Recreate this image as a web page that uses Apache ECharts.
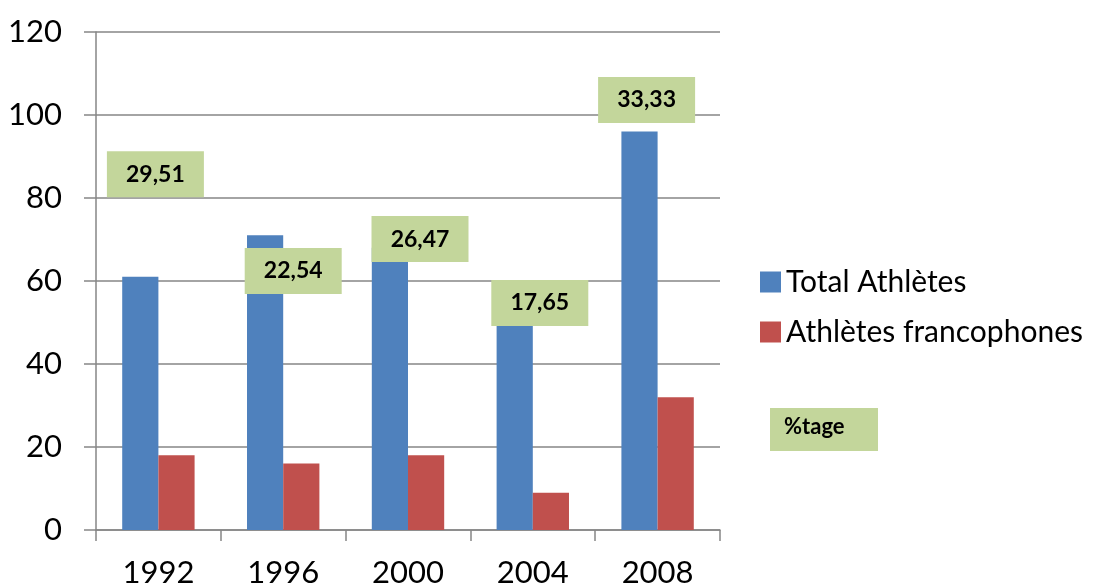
<!DOCTYPE html>
<html>
<head>
    <meta charset="utf-8">
    <title>Athlètes</title>
    <script src="https://cdn.jsdelivr.net/npm/echarts@6/dist/echarts.min.js"></script>
    <style>
        body { margin: 0; background: #fff; }
    </style>
</head>
<body>
<div id="main" style="width: 1100px;height:588px;"></div>
<script type="text/javascript">
    // données
    var years = ['1992', '1996', '2000', '2004', '2008'];
    var totalAthletes = [61, 71, 68, 51, 96];
    var francophones = [18, 16, 18, 9, 32];
    var pourcentages = [29.51, 22.54, 26.47, 17.65, 33.33];
    // hauteur (en valeur) et décalage des étiquettes vertes
    var labelHeights = [85.7, 62.4, 70.1, 54.7, 103.6];
    var labelShifts = [-3, 10, 12, 7, -11];

    var myChart = echarts.init(document.getElementById('main'));
    var fontName = 'Lato';

    var labelData = [];
    for (var i = 0; i < years.length; i++) {
        labelData.push({
            value: [i, labelHeights[i], pourcentages[i]],
            symbolOffset: [labelShifts[i], 0]
        });
    }

    var option = {
        animation: false,
        textStyle: { fontFamily: fontName },
        grid: { left: 96, right: 380, top: 32, bottom: 58, outerBoundsMode: 'none' },
        legend: {
            data: ['Total Athlètes', 'Athlètes francophones'],
            orient: 'vertical',
            left: 755,
            top: 262,
            itemWidth: 21,
            itemHeight: 21,
            itemGap: 20,
            icon: 'rect',
            textStyle: { fontSize: 30, color: '#000', fontFamily: fontName, padding: [0, 0, 0, 0] }
        },
        xAxis: {
            type: 'category',
            data: years,
            axisLine: { lineStyle: { color: '#868686', width: 1.5 } },
            axisTick: { show: true, length: 11, lineStyle: { color: '#868686', width: 1.5 } },
            axisLabel: { fontSize: 31, color: '#000', margin: 27 }
        },
        yAxis: {
            type: 'value',
            min: 0,
            max: 120,
            interval: 20,
            axisLine: { show: true, lineStyle: { color: '#868686', width: 1.5 } },
            axisTick: { show: true, length: 12, lineStyle: { color: '#868686', width: 1.5 } },
            splitLine: { lineStyle: { color: '#868686', width: 1.5 } },
            axisLabel: { fontSize: 31, color: '#000', margin: 34 }
        },
        series: [
            {
                name: 'Total Athlètes',
                type: 'bar',
                data: totalAthletes,
                barGap: '0%',
                barCategoryGap: '42%',
                itemStyle: { color: '#4f81bd' }
            },
            {
                name: 'Athlètes francophones',
                type: 'bar',
                data: francophones,
                itemStyle: { color: '#c0504d' }
            },
            {
                name: '%tage',
                type: 'scatter',
                data: labelData,
                symbol: 'rect',
                symbolSize: [97, 46],
                z: 10,
                itemStyle: { color: '#c3d69b', opacity: 1 },
                label: {
                    show: true,
                    position: 'inside',
                    color: '#000',
                    fontWeight: 'bold',
                    fontSize: 23,
                    fontFamily: fontName,
                    formatter: function (p) {
                        return p.value[2].toFixed(2).replace('.', ',');
                    }
                }
            }
        ],
        graphic: [
            {
                type: 'rect',
                left: 770,
                top: 408,
                shape: { width: 108, height: 43 },
                style: { fill: '#c3d69b' }
            },
            {
                type: 'text',
                left: 784,
                top: 416,
                style: {
                    text: '%tage',
                    fill: '#000',
                    font: 'bold 22px ' + fontName
                }
            }
        ]
    };

    myChart.setOption(option);
</script>
</body>
</html>
